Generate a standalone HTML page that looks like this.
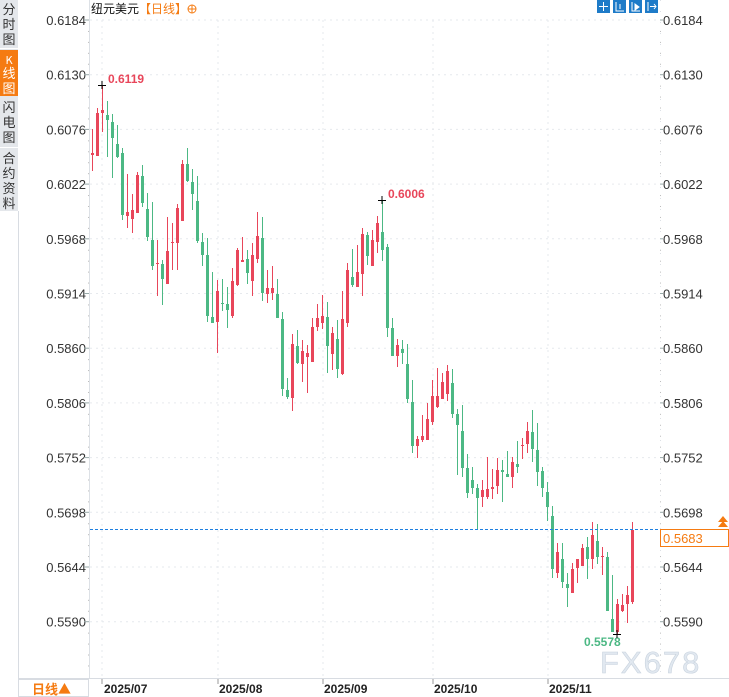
<!DOCTYPE html>
<html><head><meta charset="utf-8"><style>
html,body{margin:0;padding:0;background:#fff;width:729px;height:697px;overflow:hidden;font-family:"Liberation Sans","Noto Sans CJK SC",sans-serif}
</style></head><body>
<svg id="s" width="729" height="697" xmlns="http://www.w3.org/2000/svg" style="position:absolute;left:0;top:0">
<rect x="0" y="0" width="18" height="697" fill="#e4e7eb"/>
<rect x="0" y="48" width="18" height="1" fill="#fff"/>
<rect x="0" y="50" width="18" height="46" fill="#f57b12"/>
<rect x="0" y="147" width="18" height="1" fill="#fff"/>
<rect x="0" y="211" width="18" height="486" fill="#fff"/>
<line x1="18.5" y1="211" x2="18.5" y2="697" stroke="#d8dce2"/>
<g font-size="13" fill="#333" text-anchor="middle" font-family="'Noto Sans CJK SC',sans-serif">
<text x="9" y="14">分</text><text x="9" y="29">时</text><text x="9" y="44">图</text>
<text x="9" y="64" fill="#fff" font-size="11">K</text><text x="9" y="78" fill="#fff">线</text><text x="9" y="93" fill="#fff">图</text>
<text x="9" y="112">闪</text><text x="9" y="127">电</text><text x="9" y="142">图</text>
<text x="9" y="163">合</text><text x="9" y="178">约</text><text x="9" y="193">资</text><text x="9" y="208">料</text>
</g>
<line x1="89.5" y1="0" x2="89.5" y2="678" stroke="#dde1e6"/>
<line x1="660.5" y1="0" x2="660.5" y2="678" stroke="#dde1e6" stroke-dasharray="1,10"/>
<line x1="18" y1="678.5" x2="729" y2="678.5" stroke="#d8dce2"/>
<rect x="18.5" y="679.5" width="70" height="17" fill="#fff" stroke="#d8dce2"/>
<text x="32" y="694" font-size="13" fill="#f57b12" font-weight="bold" font-family="'Noto Sans CJK SC',sans-serif">日线▲</text>
<g id="grid"></g>
<g id="c"></g>
<line x1="90" y1="529.5" x2="660" y2="529.5" stroke="#1e7fe0" stroke-dasharray="3,2"/>
<rect x="660.5" y="529.5" width="68" height="17" fill="#fff" stroke="#f57b12"/>
<text x="663" y="543" font-size="13" fill="#f57b12">0.5683</text>
<path d="M718 527 L723 521 L728 527 Z M718 522 L723 516 L728 522 Z" fill="#f57b12"/>
<text x="91" y="13" font-size="12" fill="#111" font-family="'Noto Sans CJK SC',sans-serif">纽元美元<tspan fill="#f57b12">【日线】</tspan></text>
<circle cx="192" cy="9" r="4" fill="none" stroke="#f57b12"/><path d="M188 9h8M192 5v8" stroke="#f57b12"/>
<g fill="#1e7bc8">
<rect x="597" y="0" width="13" height="13"/><rect x="613" y="0" width="13" height="13"/><rect x="629" y="0" width="13" height="13"/><rect x="645" y="0" width="13" height="13"/>
</g>
<g stroke="#fff" fill="none">
<path d="M603.5 2v9M599 6.5h9"/><path d="M616 2v9h8M620 4v5"/><path d="M632 2v9h8"/><path d="M635 4l4 3-4 3z" fill="#fff"/><path d="M648 2v9M650 6.5h6M654 4l2 2.5-2 2.5"/>
</g>
<text x="108" y="83" font-size="12" fill="#e8465a" font-weight="bold">0.6119</text>
<text x="388" y="198" font-size="12" fill="#e8465a" font-weight="bold">0.6006</text>
<text x="584" y="646" font-size="12" fill="#4cb884" font-weight="bold">0.5578</text>
<path d="M98 85.5h8M102 81v8M378 200.5h8M382 196v8M613 634.5h8M617 630v8" stroke="#000"/>
<text x="600" y="673" font-size="31" fill="#e1e8f0" stroke="#c9d3de" stroke-width="0.6" letter-spacing="2">FX678</text>
<g font-size="12" fill="#222" font-weight="bold">
<text x="104" y="693">2025/07</text><text x="219" y="693">2025/08</text><text x="324" y="693">2025/09</text><text x="434" y="693">2025/10</text><text x="549" y="693">2025/11</text>
</g>
</svg>
<script>
var NS="http://www.w3.org/2000/svg",s=document.getElementById("s"),g=document.getElementById("grid"),c=document.getElementById("c");
function el(p,t,a){var e=document.createElementNS(NS,t);for(var k in a)e.setAttribute(k,a[k]);p.appendChild(e);return e;}
var labs=["0.6184","0.6130","0.6076","0.6022","0.5968","0.5914","0.5860","0.5806","0.5752","0.5698","0.5644","0.5590"];
for(var i=0;i<12;i++){var y=20+i*54.7;
el(g,"line",{x1:90,y1:y,x2:660,y2:y,stroke:"#e6e9ed","stroke-dasharray":"2,4"});
var t=el(g,"text",{x:86,y:y+5,"font-size":13,fill:"#333","text-anchor":"end"});t.textContent=labs[i];
var t2=el(g,"text",{x:663,y:y+5,"font-size":13,fill:"#333"});t2.textContent=labs[i];
el(g,"line",{x1:84,y1:y,x2:89,y2:y,stroke:"#9aa"});el(g,"line",{x1:660,y1:y,x2:663,y2:y,stroke:"#9aa"});
for(var j=1;j<5;j++){var yy=y+j*10.94;if(yy<678){el(g,"rect",{x:88,y:yy,width:1,height:1,fill:"#bbb"});el(g,"rect",{x:660,y:yy,width:1,height:1,fill:"#bbb"});}}}
[102,218,323,433,548].forEach(function(x){el(g,"line",{x1:x,y1:20,x2:x,y2:678,stroke:"#e6e9ed","stroke-dasharray":"2,4"});el(g,"line",{x1:x,y1:679,x2:x,y2:684,stroke:"#999"});});
var d=[[129,171,153,155,"r"],[108,156,113,156,"r"],[85,132,110,113,"r"],[101,157,115,120,"g"],[114,178,122,138,"g"],[125,158,144,157,"g"],[148,220,153,215,"g"],[174,228,212,216,"r"],[194,233,210,219,"r"],[172,213,175,213,"r"],
[165,207,176,203,"g"],[193,241,209,237,"g"],[202,270,240,266,"g"],[240,296,263,264,"r"],[260,305,264,279,"g"],[217,284,251,284,"r"],[223,270,242,243,"r"],[204,270,208,243,"r"],[160,221,164,221,"r"],[148,182,164,181,"g"],
[169,210,182,194,"g"],[176,243,201,241,"g"],[233,266,242,255,"g"],[238,322,255,316,"g"],[272,323,317,323,"g"],[280,353,291,322,"r"],[279,311,303,304,"g"],[287,328,304,310,"g"],[268,318,281,316,"r"],[248,286,250,285,"r"],
[237,262,260,262,"r"],[250,284,259,273,"g"],[243,296,255,281,"r"],[212,263,236,259,"r"],[217,301,238,293,"g"],[270,303,288,294,"r"],[266,300,288,293,"r"],[279,318,294,318,"g"],[312,396,319,389,"g"],[378,399,390,397,"g"],
[334,411,344,398,"r"],[330,364,346,363,"g"],[340,382,351,364,"r"],[345,393,353,357,"r"],[318,362,327,362,"r"],[304,331,318,327,"r"],[295,329,316,323,"r"],[302,373,317,346,"g"],[327,370,333,354,"r"],[320,378,339,369,"g"],
[291,375,319,374,"r"],[263,327,270,323,"r"],[249,287,277,285,"g"],[245,287,272,287,"r"],[228,296,234,274,"r"],[232,265,235,256,"g"],[230,266,240,266,"r"],[216,253,223,242,"r"],[200,261,232,250,"g"],[244,337,247,328,"g"],
[318,356,328,356,"g"],[339,367,345,356,"r"],[340,364,349,353,"g"],[344,403,364,399,"g"],[380,453,402,446,"g"],[436,458,439,446,"r"],[415,442,436,440,"r"],[403,440,419,440,"r"],[380,425,396,422,"r"],[368,408,396,407,"r"],
[373,399,382,399,"r"],[365,401,371,394,"r"],[369,418,383,414,"g"],[409,475,414,425,"g"],[405,477,431,468,"g"],[454,498,468,493,"g"],[467,494,480,488,"g"],[484,529,488,498,"g"],[480,507,490,497,"r"],[457,499,489,497,"r"],
[469,499,487,489,"r"],[458,494,470,486,"r"],[460,502,470,472,"g"],[451,477,474,477,"g"],[457,488,462,477,"r"],[441,473,464,467,"g"],[438,459,445,446,"r"],[422,453,431,444,"r"],[410,462,432,449,"g"],[423,486,450,472,"g"],
[467,497,471,488,"g"],[482,521,492,507,"g"],[506,578,516,569,"g"],[543,578,552,573,"r"],[543,588,559,582,"g"],[573,607,584,588,"g"],[563,593,569,593,"r"],[560,583,559,568,"r"],[544,566,548,566,"r"],[537,579,547,559,"g"],
[522,569,535,559,"r"],[524,564,541,557,"g"],[547,575,556,557,"r"],[552,611,557,611,"g"],[575,632,619,632,"g"],[599,635,604,632,"r"],[594,612,605,611,"r"],[586,623,595,604,"r"],[522,604,530,602,"r"]];
d.forEach(function(k,i){var x=92+5*i,col=k[4]=="r"?"#e8465a":"#4cb884";
el(c,"rect",{x:x,y:k[0],width:1,height:k[1]-k[0],fill:col});
el(c,"rect",{x:x-1,y:k[2],width:3,height:Math.max(1,k[3]-k[2]),fill:col});});
</script>
</body></html>
